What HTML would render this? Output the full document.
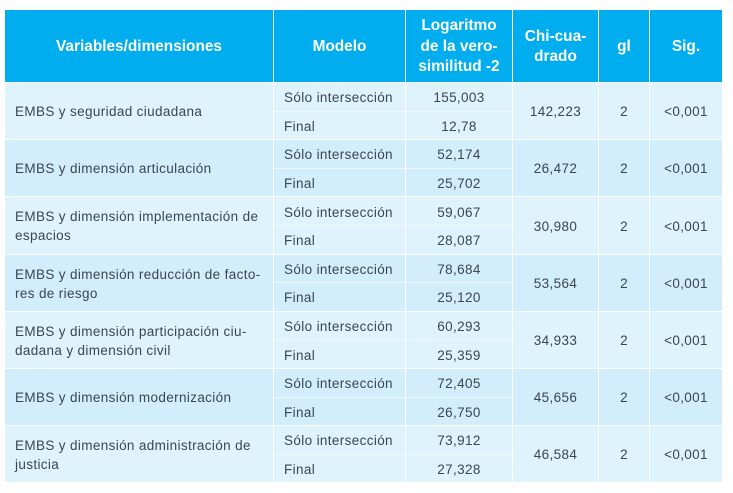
<!DOCTYPE html>
<html lang="es">
<head>
<meta charset="utf-8">
<title>Tabla EMBS</title>
<style>
html,body{margin:0;padding:0;background:#fff;}
body{width:733px;height:493px;overflow:hidden;position:relative;font-family:"Liberation Sans",sans-serif;color:#3a4650;}
table{position:absolute;left:5px;top:10px;width:717px;height:472px;border-collapse:collapse;table-layout:fixed;font-size:13.5px;letter-spacing:.36px;}
th{background:#00aeef;color:#fff;font-size:15.4px;font-weight:bold;line-height:20.5px;letter-spacing:0;padding:2px 0 0;height:70px;border:1px solid #fff;border-top:0;text-align:center;}
th:first-child,td:first-child{border-left:0;}
th:last-child,td:last-child{border-right:0;}
td{padding:0;border:1px solid #fff;text-align:center;height:27.6px;line-height:19px;}
td.v{text-align:left;padding:0 8px 0 10px;}
td.m{text-align:left;padding-left:10px;}
td.m,td.l{padding-top:2px;height:25.6px;}
tr.d td[rowspan]{padding-top:2px;}
tr.o td{background:#dff3fd;}
tr.e td{background:#d2eefc;}
td.m,td.l{border-color:#eff9fe;border-left-color:#fff;border-right-color:#fff;}
tr.t td.m,tr.t td.l{border-bottom-color:#f0f9fe;border-top-color:#fff;}
tr.b td.m,tr.b td.l{border-top-color:#f0f9fe;border-bottom-color:#fff;}
tr:last-child td{border-bottom:0;}
</style>
</head>
<body>
<table>
<colgroup><col style="width:268.5px"><col style="width:132px"><col style="width:107px"><col style="width:86px"><col style="width:51px"><col style="width:72.5px"></colgroup>
<thead>
<tr>
<th>Variables/dimensiones</th>
<th>Modelo</th>
<th>Logaritmo<br>de la vero-<br>similitud -2</th>
<th>Chi-cua-<br>drado</th>
<th>gl</th>
<th>Sig.</th>
</tr>
</thead>
<tbody>
<tr class="o t"><td class="v" rowspan="2">EMBS y seguridad ciudadana</td><td class="m">Sólo intersección</td><td class="l">155,003</td><td rowspan="2">142,223</td><td rowspan="2">2</td><td rowspan="2">&lt;0,001</td></tr>
<tr class="o b"><td class="m">Final</td><td class="l">12,78</td></tr>

<tr class="e t"><td class="v" rowspan="2">EMBS y dimensión articulación</td><td class="m">Sólo intersección</td><td class="l">52,174</td><td rowspan="2">26,472</td><td rowspan="2">2</td><td rowspan="2">&lt;0,001</td></tr>
<tr class="e b"><td class="m">Final</td><td class="l">25,702</td></tr>

<tr class="o t d"><td class="v" rowspan="2">EMBS y dimensión implementación de<br>espacios</td><td class="m">Sólo intersección</td><td class="l">59,067</td><td rowspan="2">30,980</td><td rowspan="2">2</td><td rowspan="2">&lt;0,001</td></tr>
<tr class="o b"><td class="m">Final</td><td class="l">28,087</td></tr>

<tr class="e t d"><td class="v" rowspan="2">EMBS y dimensión reducción de facto-<br>res de riesgo</td><td class="m">Sólo intersección</td><td class="l">78,684</td><td rowspan="2">53,564</td><td rowspan="2">2</td><td rowspan="2">&lt;0,001</td></tr>
<tr class="e b"><td class="m">Final</td><td class="l">25,120</td></tr>

<tr class="o t d"><td class="v" rowspan="2">EMBS y dimensión participación ciu-<br>dadana y dimensión civil</td><td class="m">Sólo intersección</td><td class="l">60,293</td><td rowspan="2">34,933</td><td rowspan="2">2</td><td rowspan="2">&lt;0,001</td></tr>
<tr class="o b"><td class="m">Final</td><td class="l">25,359</td></tr>

<tr class="e t"><td class="v" rowspan="2">EMBS y dimensión modernización</td><td class="m">Sólo intersección</td><td class="l">72,405</td><td rowspan="2">45,656</td><td rowspan="2">2</td><td rowspan="2">&lt;0,001</td></tr>
<tr class="e b"><td class="m">Final</td><td class="l">26,750</td></tr>

<tr class="o t d"><td class="v" rowspan="2">EMBS y dimensión administración de<br>justicia</td><td class="m">Sólo intersección</td><td class="l">73,912</td><td rowspan="2">46,584</td><td rowspan="2">2</td><td rowspan="2">&lt;0,001</td></tr>
<tr class="o b"><td class="m">Final</td><td class="l">27,328</td></tr>
</tbody>
</table>
</body>
</html>
